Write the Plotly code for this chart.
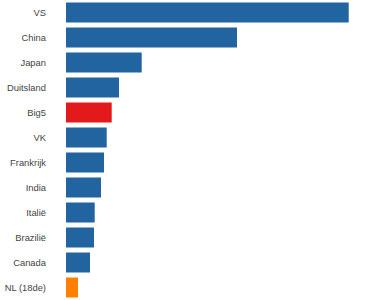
import plotly.graph_objects as go

categories = ["VS", "China", "Japan", "Duitsland", "Big5", "VK", "Frankrijk",
              "India", "Italië", "Brazilië", "Canada", "NL (18de)"]
values = [282.7, 171, 75.7, 53, 45.7, 40.7, 38, 35, 28.7, 28, 24, 12]
colors = ["#21649f"] * 4 + ["#e31a1c"] + ["#21649f"] * 6 + ["#ff7f00"]

fig = go.Figure(go.Bar(
    x=values, y=categories, orientation="h",
    marker=dict(color=colors, line=dict(width=0)),
    hoverinfo="x+y",
))
fig.update_layout(
    width=390, height=300,
    margin=dict(l=66, r=0, t=0, b=0),
    paper_bgcolor="white", plot_bgcolor="white",
    bargap=0.2, showlegend=False,
    font=dict(family="Liberation Sans, Arial, sans-serif", size=9.4, color="#444"),
)
fig.update_xaxes(range=[0, 324], visible=False, fixedrange=True)
fig.update_yaxes(autorange="reversed", showgrid=False, zeroline=False,
                 showline=False, ticks="", ticklabelstandoff=19, fixedrange=True)
fig.write_html("out.html", config={"displayModeBar": False})
